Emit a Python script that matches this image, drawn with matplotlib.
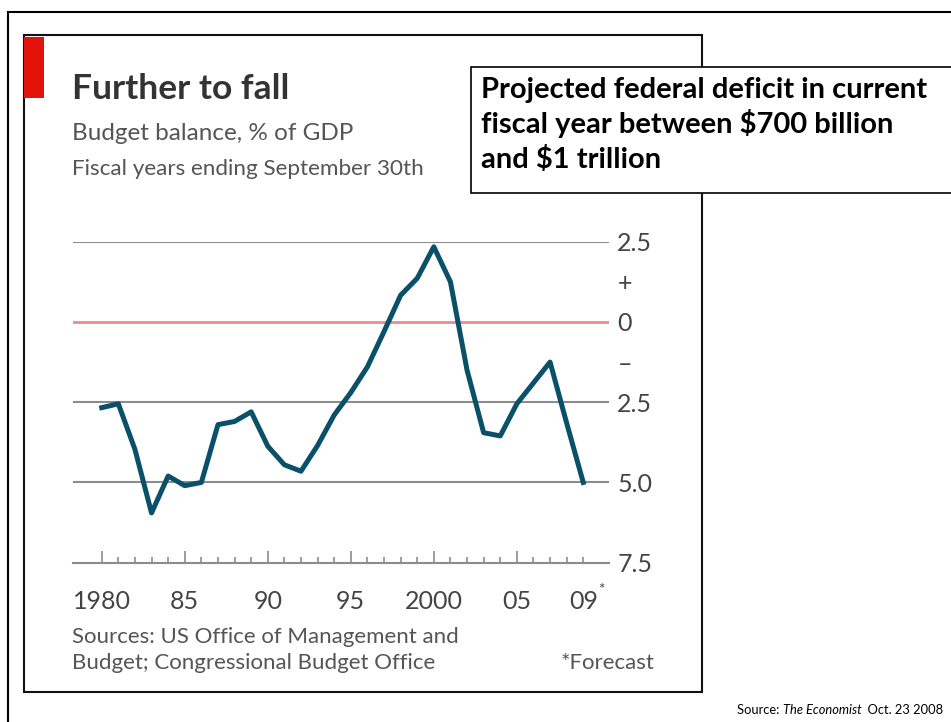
import numpy as np
import matplotlib
matplotlib.use("Agg")
import matplotlib.pyplot as plt
from matplotlib.patches import Rectangle
from matplotlib.lines import Line2D

# data (budget balance, % of GDP)
years = np.arange(1980, 2010)
balance = [-2.67, -2.55, -3.97, -5.95, -4.80, -5.10, -5.00, -3.20, -3.10, -2.80,
           -3.87, -4.45, -4.65, -3.85, -2.90, -2.20, -1.40, -0.30, 0.83, 1.36,
           2.34, 1.25, -1.50, -3.45, -3.55, -2.55, -1.90, -1.25, -3.15, -5.00]

ytick_pos = [2.5, 1.25, 0, -1.25, -2.5, -5.0, -7.5]
ytick_labels = ["2.5", "+", "0", "\u2013", "2.5", "5.0", "7.5"]
xmajor = [1980, 1985, 1990, 1995, 2000, 2005]
xmajor_labels = ["1980", "85", "90", "95", "2000", "05"]
xminor = [y for y in years if y not in xmajor]
xminor_labels = ["09" if y == 2009 else "" for y in xminor]

box_lines = ["Projected federal deficit in current",
             "fiscal year between $700 billion",
             "and $1 trillion"]
source_parts = [("Source: ", "normal"), ("The Economist", "italic"), ("  Oct. 23 2008", "normal")]

W, H = 951, 722
LINE = "#0b5069"
GRID = "#8c8c8c"
ZERO = "#f08a8e"
ECO = "Lato"
TXT = "#555555"


def px(x, y):
    return x / W, 1 - y / H


fig = plt.figure(figsize=(W / 100, H / 100), dpi=100)

# slide frame (only top and left show)
fig.add_artist(Line2D([8 / W, 1], [1 - 12 / H] * 2, color="black", lw=1.5, transform=fig.transFigure))
fig.add_artist(Line2D([8 / W] * 2, [0, 1 - 12 / H], color="black", lw=1.5, transform=fig.transFigure))

# chart box
x0, y0 = px(23.5, 692)
x1, y1 = px(702, 35)
fig.add_artist(Rectangle((x0, y0), x1 - x0, y1 - y0, fill=False, ec="#111111", lw=1.5,
                         transform=fig.transFigure))
rx, ry = px(24, 98)
fig.add_artist(Rectangle((rx, ry), 20 / W, 61 / H, color="#e3120b", lw=0,
                         transform=fig.transFigure))

# titles
fig.text(*px(72, 99), "Further to fall", fontsize=25.5, fontweight="bold", color="#333333",
         family=ECO, va="baseline")
fig.text(*px(72, 140), "Budget balance, % of GDP", fontsize=17.5, color=TXT,
         family=ECO, va="baseline")
fig.text(*px(72, 175), "Fiscal years ending September 30th", fontsize=16.2, color=TXT,
         family=ECO, va="baseline")

# plot area
ax = fig.add_axes([73 / W, 1 - 562.7 / H, (609 - 73) / W, (562.7 - 241.7) / H])
ax.set_xlim(1978.27, 2010.55)
ax.set_ylim(-7.5, 2.5)
for s in ["top", "left", "right"]:
    ax.spines[s].set_visible(False)
ax.spines["bottom"].set_color(GRID)
ax.spines["bottom"].set_linewidth(1.5)

for v in [2.5, -2.5, -5.0]:
    ax.axhline(v, color=GRID, lw=1.5, zorder=1)
ax.axhline(0, color=ZERO, lw=2, zorder=1)

ax.plot(years, balance, color=LINE, lw=3.6, zorder=3, clip_on=False)

ax.yaxis.tick_right()
ax.set_yticks(ytick_pos)
ax.set_yticklabels(ytick_labels)
ax.tick_params(axis="y", length=0, pad=6, labelsize=18, labelcolor="#444444")

ax.set_xticks(xmajor)
ax.set_xticklabels(xmajor_labels)
ax.set_xticks(xminor, minor=True)
ax.set_xticklabels(xminor_labels, minor=True)
ax.tick_params(axis="x", which="major", direction="in", length=9, width=1.2, color=GRID,
               pad=20, labelsize=18, labelcolor="#444444")
ax.tick_params(axis="x", which="minor", direction="in", length=4.5, width=1.2, color=GRID,
               pad=20, labelsize=18, labelcolor="#444444")
for lab in (ax.get_xticklabels() + ax.get_xticklabels(minor=True) + ax.get_yticklabels()):
    lab.set_family(ECO)

fig.text(*px(598, 594), "*", fontsize=11, color="#444444", family=ECO, va="baseline")

# sources
fig.text(*px(72, 643), "Sources: US Office of Management and", fontsize=16, color=TXT,
         family=ECO, va="baseline")
fig.text(*px(72, 669), "Budget; Congressional Budget Office", fontsize=16, color=TXT,
         family=ECO, va="baseline")
fig.text(*px(654, 669), "*Forecast", fontsize=16, color=TXT, family=ECO,
         va="baseline", ha="right")

# annotation box
bx0, by0 = px(471, 193)
fig.add_artist(Rectangle((bx0, by0), 1 - bx0 + 0.01, 126 / H, fc="white", ec="black", lw=1.2,
                         transform=fig.transFigure, zorder=5))
for i, line in enumerate(box_lines):
    fig.text(*px(481, 98 + 35 * i), line, fontsize=21, fontweight="bold", color="black",
             family="Lato", va="baseline", zorder=6)

# slide source line, laid out piece by piece so the title can be italic
renderer = fig.canvas.get_renderer()
xpos = 737
for txt, style in source_parts:
    t = fig.text(*px(xpos, 714), txt, fontsize=9.3, family="Lato", style=style, va="baseline")
    xpos += t.get_window_extent(renderer).width

fig.savefig("out.png", dpi=100)
